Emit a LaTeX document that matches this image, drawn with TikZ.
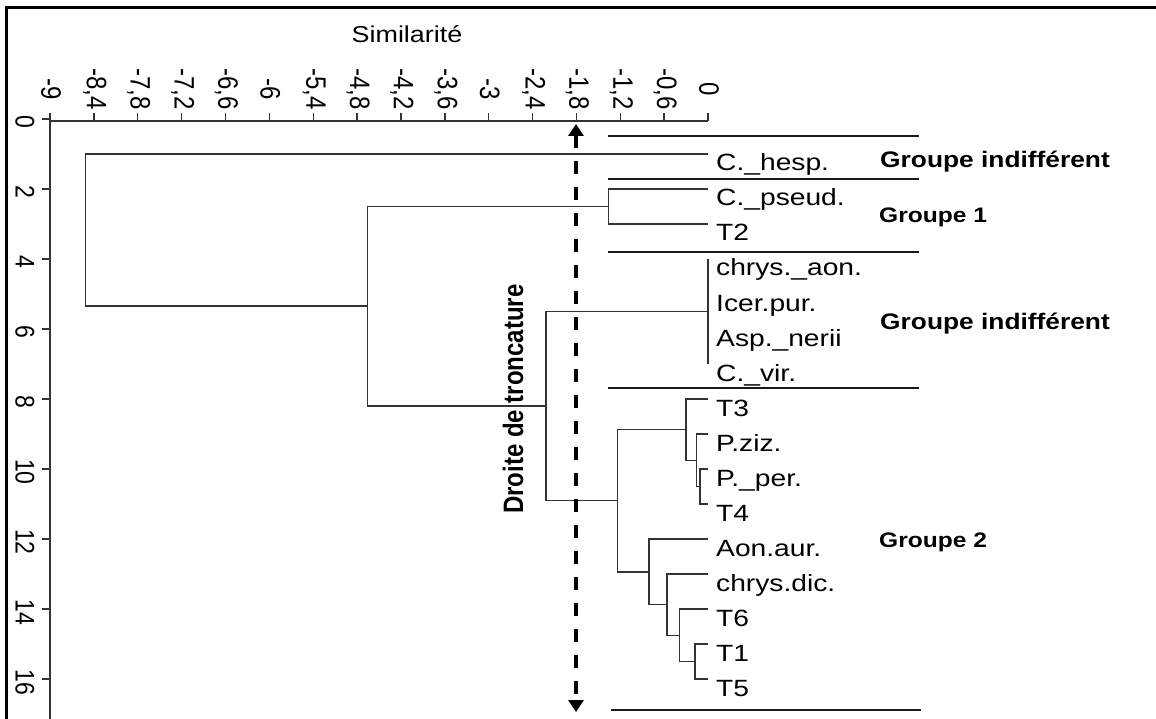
\documentclass[tikz,border=0pt]{standalone}
\usepackage{fontspec}
\usepackage{graphicx}
\setmainfont{Liberation Sans}
\newfontfamily\lsx[FakeStretch=1.17]{Liberation Sans}
\newfontfamily\lsy[FakeStretch=1.2]{Liberation Sans}
\usetikzlibrary{arrows.meta}
\begin{document}
\begin{tikzpicture}[x=1pt,y=-1pt,
  frameline/.style={line width=3pt,black},
  axisline/.style={line width=1.4pt,black!80},
  tree/.style={line width=1.5pt,black!80},
  sepline/.style={line width=2.6pt,black!90},
  leaf/.style={anchor=base west,inner sep=0pt,font=\lsy\fontsize{23.5}{27}\selectfont},
  grp/.style={anchor=base west,inner sep=0pt,font=\lsx\bfseries\fontsize{21}{25}\selectfont},
  grpb/.style={anchor=base west,inner sep=0pt,font=\lsx\bfseries\fontsize{22.5}{26}\selectfont},
  tickl/.style={rotate=-90,inner sep=0pt,font=\fontsize{24}{28}\selectfont},
  ticky/.style={rotate=-90,inner sep=0pt,font=\fontsize{23}{27}\selectfont},
  cutline/.style={line width=4.5pt,dash pattern=on 13pt off 13pt,
     {Triangle[width=15pt,length=12pt]}-{Triangle[width=15pt,length=12pt]}}
]
\useasboundingbox (0,0) rectangle (1156,719);
% frame
\draw[frameline] (5,8) -- (1158,8);
\draw[frameline] (6.5,6.5) -- (6.5,721);

% title
\node[anchor=base,inner sep=0pt,font=\lsx\fontsize{23}{27}\selectfont] (title) at (407,43) {Similarité};

% top axis
\draw[axisline] (50,121) -- (708,121);
\foreach \v/\t [count=\i] in {-9/-9,-8.4/{-8,4},-7.8/{-7,8},-7.2/{-7,2},-6.6/{-6,6},-6/-6,-5.4/{-5,4},-4.8/{-4,8},-4.2/{-4,2},-3.6/{-3,6},-3/-3,-2.4/{-2,4},-1.8/{-1,8},-1.2/{-1,2},-0.6/{-0,6},0/0}{
  \pgfmathsetmacro\xx{708+73.11*\v}
  \draw[axisline] (\xx,121) -- (\xx,113);
  \node[tickl] (tx\i) at (\xx+1,89) {\scalebox{1}[1.17]{\t}};
}

% left axis
\draw[axisline] (50,116) -- (50,721);
\foreach \k [count=\i] in {0,2,...,16}{
  \pgfmathsetmacro\yy{119+35*\k}
  \draw[axisline] (42,\yy) -- (50,\yy);
  \node[ticky] (ty\i) at (25,\yy+3) {\scalebox{1}[1.17]{\k}};
}

% leaves
\foreach \n/\t [count=\i] in {1/{C.\_hesp.},2/{C.\_pseud.},3/{T2},4/{chrys.\_aon.},5/{Icer.pur.},6/{Asp.\_nerii},7/{C.\_vir.},8/{T3},9/{P.ziz.},10/{P.\_per.},11/{T4},12/{Aon.aur.},13/{chrys.dic.},14/{T6},15/{T1},16/{T5}}{
  \pgfmathsetmacro\yy{119+35*\n}
  \coordinate (L\n) at (708,\yy);
  \node[leaf] (lab\n) at (716,\yy+17) {\t};
}

% internal nodes
\coordinate (nA3) at (700,486.5);
\coordinate (nA2) at (696.7,460.25);
\coordinate (nA) at (686,429.6);
\coordinate (nB4) at (695.2,661.5);
\coordinate (nB3) at (679.5,635.25);
\coordinate (nB2) at (667,604.6);
\coordinate (nB) at (648.8,571.8);
\coordinate (ng2) at (617.7,500.7);
\coordinate (ngi) at (708,311.5);
\coordinate (n3) at (546,406.1);
\coordinate (n1) at (608.3,206.5);
\coordinate (n2) at (367.3,306.2);
\coordinate (root) at (85.7,230);

\draw[tree] (L10) -| (nA3) |- (L11);
\draw[tree] (L9) -| (nA2) |- (nA3);
\draw[tree] (L8) -| (nA) |- (nA2);
\draw[tree] (L15) -| (nB4) |- (L16);
\draw[tree] (L14) -| (nB3) |- (nB4);
\draw[tree] (L13) -| (nB2) |- (nB3);
\draw[tree] (L12) -| (nB) |- (nB2);
\draw[tree] (nA) -| (ng2) |- (nB);
\draw[tree] (L4) -- (L7);
\draw[tree] (ngi) -| (n3) |- (ng2);
\draw[tree] (L2) -| (n1) |- (L3);
\draw[tree] (n1) -| (n2) |- (n3);
\draw[tree] (L1) -| (root) |- (n2);

% group separators
\foreach \y/\a/\b [count=\i] in {136/608/919,179/608/919,252/608/919,388/608/919,710/611/921}{
  \coordinate (s\i a) at (\a,\y);
  \coordinate (s\i b) at (\b,\y);
  \draw[sepline] (s\i a) -- (s\i b);
}

% group labels
\node[grpb] (g0) at (880,168) {Groupe indifférent};
\node[grp] (g1) at (879,223) {Groupe 1};
\node[grpb] (g3) at (880,329) {Groupe indifférent};
\node[grp] (g2) at (879,547) {Groupe 2};

% truncation line
\coordinate (ctop) at (576,124);
\coordinate (cbot) at (576,712);
\draw[cutline] (ctop) -- (cbot);
\node[rotate=90,inner sep=0pt,font=\bfseries\fontsize{24}{28}\selectfont] (cutlab) at (513,399) {\scalebox{1}[1.17]{Droite de troncature}};
\end{tikzpicture}
\end{document}
